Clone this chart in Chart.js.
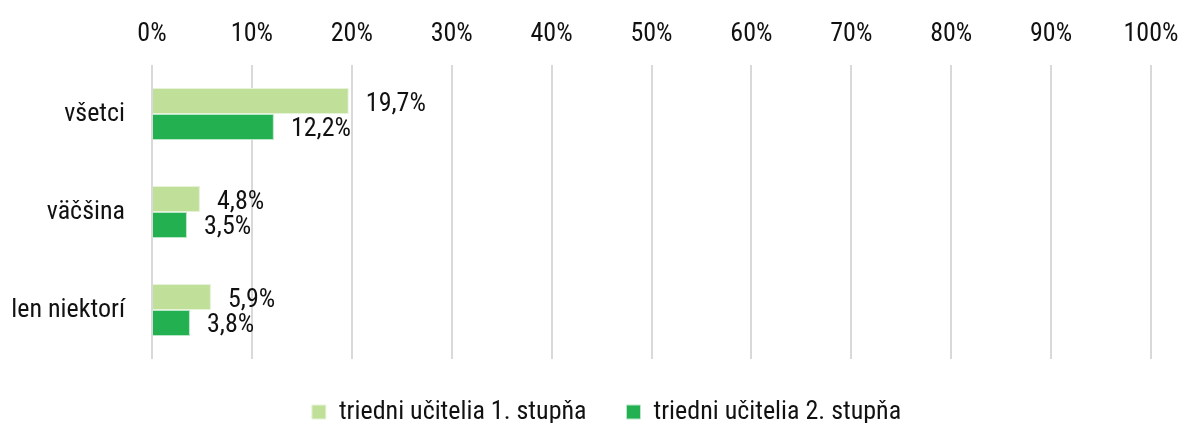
<!DOCTYPE html>
<html>
<head>
<meta charset="utf-8">
<script src="https://cdn.jsdelivr.net/npm/chart.js@4/dist/chart.umd.min.js"></script>
<style>
  html, body { margin: 0; padding: 0; background: #fff; }
  #wrap { width: 1181px; height: 423px; }
</style>
</head>
<body>
<div id="wrap"><canvas id="chart"></canvas></div>
<script>
const categories = ["všetci", "väčšina", "len niektorí"];
const seriesNames = ["triedni učitelia 1. stupňa", "triedni učitelia 2. stupňa"];
const firstGrade = [19.7, 4.8, 5.9];
const secondGrade = [12.2, 3.5, 3.8];
const xTicks = [0, 10, 20, 30, 40, 50, 60, 70, 80, 90, 100];

const fontFamily = "'Roboto Condensed', 'Liberation Sans Narrow', 'DejaVu Sans Condensed', Roboto, sans-serif";
Chart.defaults.font.family = fontFamily;
Chart.defaults.font.size = 26;
Chart.defaults.color = "#111";

const fmt = v => v.toFixed(1).replace(".", ",") + "%";

const valueLabels = {
    id: "valueLabels",
    afterDatasetsDraw(chart) {
        const ctx = chart.ctx;
        ctx.save();
        ctx.font = "26px " + fontFamily;
        ctx.fillStyle = "#111";
        ctx.textAlign = "left";
        ctx.textBaseline = "middle";
        chart.data.datasets.forEach((ds, i) => {
            const meta = chart.getDatasetMeta(i);
            meta.data.forEach((bar, j) => {
                ctx.fillText(fmt(ds.data[j]), bar.x + 17, bar.y + 3);
            });
        });
        ctx.restore();
    }
};

// the legend in the original sits a bit right of the canvas centre
const legendShift = {
    id: "legendShift",
    afterLayout(chart) {
        if (chart.legend) {
            chart.legend.left += 31;
            chart.legend.right += 31;
        }
    }
};

new Chart(document.getElementById("chart").getContext("2d"), {
    type: "bar",
    data: {
        labels: categories,
        datasets: [
            {
                label: seriesNames[0],
                data: firstGrade,
                backgroundColor: "#c0e09a",
                borderColor: "#e6f3d8",
                borderWidth: 1
            },
            {
                label: seriesNames[1],
                data: secondGrade,
                backgroundColor: "#22b050",
                borderColor: "#b9e6c6",
                borderWidth: 1
            }
        ]
    },
    options: {
        indexAxis: "y",
        responsive: true,
        maintainAspectRatio: false,
        animation: false,
        layout: { padding: { left: 0, right: 30, top: 0, bottom: 0 } },
        datasets: {
            bar: { categoryPercentage: 0.53, barPercentage: 1 }
        },
        scales: {
            x: {
                position: "top",
                min: 0,
                max: 100,
                afterBuildTicks: axis => { axis.ticks = xTicks.map(v => ({ value: v })); },
                afterFit: axis => {
                    axis.height = 65;
                    axis.paddingLeft = 0;
                    axis.paddingRight = 0;
                },
                ticks: {
                    padding: 15,
                    maxRotation: 0,
                    callback: v => v + "%"
                },
                grid: { color: "#d9d9d9", lineWidth: 2, drawTicks: false },
                border: { display: false }
            },
            y: {
                afterFit: axis => { axis.width = 152; },
                ticks: { padding: 19 },
                grid: { display: false },
                border: { display: false }
            }
        },
        plugins: {
            legend: {
                position: "bottom",
                maxHeight: 64,
                labels: {
                    boxWidth: 14,
                    boxHeight: 14,
                    padding: 40,
                    color: "#111"
                }
            },
            tooltip: { enabled: false }
        }
    },
    plugins: [valueLabels, legendShift]
});
</script>
</body>
</html>
